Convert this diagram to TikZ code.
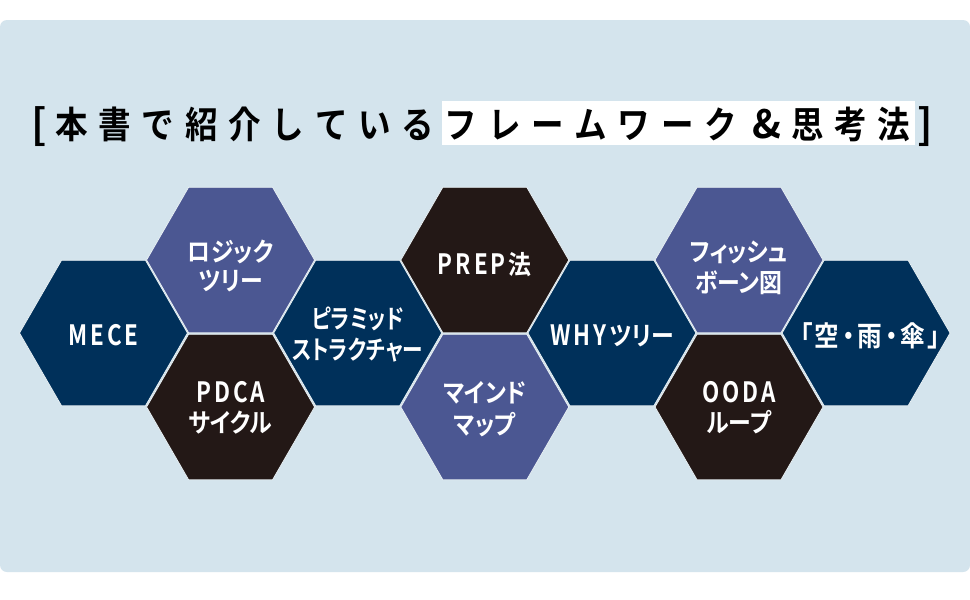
\documentclass[tikz,border=0pt]{standalone}
\usepackage{fontspec}
\usetikzlibrary{shapes.geometric}
\newfontfamily\hexf{Noto Sans CJK JP}[UprightFont={* Bold}, FakeStretch=0.88, RawFeature=+palt]
\newfontfamily\latf{Noto Sans CJK JP}[UprightFont={* Bold}, FakeStretch=0.8]
\newfontfamily\titf{Noto Sans CJK JP}[UprightFont={* Bold}, FakeStretch=0.88]
\newfontfamily\ampf{Noto Sans CJK JP}[UprightFont={* Bold}]
\definecolor{bgblue}{HTML}{D4E4ED}
\definecolor{hnavy}{HTML}{00305A}
\definecolor{hpurple}{HTML}{4B5792}
\definecolor{hblack}{HTML}{231816}
\definecolor{hline}{HTML}{E8F0F4}
\newcommand\tk{\kern3pt\relax}
\newcommand\lat[1]{{\latf\fontsize{28}{31}\selectfont #1}}
\begin{document}
\begin{tikzpicture}[x=1pt,y=-1pt,
  hexbase/.style={regular polygon, regular polygon sides=6, minimum size=168pt,
    inner sep=0pt, outer sep=0pt, draw=hline, line width=0.8pt},
  hexnavy/.style={hexbase, fill=hnavy},
  hexpurple/.style={hexbase, fill=hpurple},
  hexblack/.style={hexbase, fill=hblack},
  lab/.style={text=white, font=\hexf\fontsize{26}{31}\selectfont, inner sep=0pt, anchor=base},
  tit/.style={text=black, font=\titf\fontsize{37}{40}\selectfont, inner sep=0pt, anchor=base}]
\useasboundingbox (0,0) rectangle (970,600);
\fill[white] (0,0) rectangle (970,600);
\fill[bgblue, rounded corners=7pt] (0,20) rectangle (970,572);
% title
\fill[white] (442,101) rectangle (915,145);
\node[tit, font=\ampf\fontsize{41}{44}\selectfont] (tl) at (39,139) {[};
\foreach \ch [count=\i from 0] in {本,書,で,紹,介,し,て,い,る,フ,レ,ー,ム,ワ,ー,ク}
  \node[tit] (t\i) at ({71.7+43.27*\i},138) {\ch};
\node[tit, font=\ampf\fontsize{39}{42}\selectfont] (tamp) at (766.5,138) {\&};
\foreach \ch [count=\i from 17] in {思,考,法}
  \node[tit] (t\i) at ({71.7+43.27*\i},138) {\ch};
\node[tit, font=\ampf\fontsize{41}{44}\selectfont] (tr) at (925,139) {]};
% hexagons
\node[hexnavy]   (h1)  at (103.5,333) {};
\node[hexpurple] (h2)  at (230.6,260) {};
\node[hexblack]  (h3)  at (230.6,407) {};
\node[hexnavy]   (h4)  at (357.7,333) {};
\node[hexblack]  (h5)  at (484.8,260) {};
\node[hexpurple] (h6)  at (484.8,407) {};
\node[hexnavy]   (h7)  at (611.9,333) {};
\node[hexpurple] (h8)  at (739.0,260) {};
\node[hexblack]  (h9)  at (739.0,407) {};
\node[hexnavy]   (h10) at (866.1,333) {};
% labels
\node[lab] (l1)  at ([yshift=-12pt]h1.center) {\lat{M\tk E\tk C\tk E}};
\node[lab] (l2a) at ([yshift=-1pt]h2.center) {ロジック};
\node[lab] (l2b) at ([yshift=-30pt]h2.center) {ツリー};
\node[lab] (l3a) at ([yshift=5pt]h3.center) {\lat{P\tk D\tk C\tk A}};
\node[lab] (l3b) at ([yshift=-25pt]h3.center) {サイクル};
\node[lab] (l4a) at ([yshift=5pt]h4.center) {\scalebox{0.9}[1]{ピラミッド}};
\node[lab] (l4b) at ([yshift=-26pt]h4.center) {\scalebox{0.9}[1]{ストラクチャー}};
\node[lab] (l5)  at ([yshift=-14pt]h5.center) {\lat{P\tk R\tk E\tk P\tk}法};
\node[lab] (l6a) at ([yshift=5pt]h6.center) {マインド};
\node[lab] (l6b) at ([yshift=-27pt]h6.center) {マップ};
\node[lab] (l7)  at ([yshift=-12pt]h7.center) {\lat{W\tk H\tk Y\tk}ツリー};
\node[lab] (l8a) at ([yshift=-1pt]h8.center) {フィッシュ};
\node[lab] (l8b) at ([yshift=-32pt]h8.center) {ボーン図};
\node[lab] (l9a) at ([yshift=5pt]h9.center) {\lat{O\tk O\tk D\tk A}};
\node[lab] (l9b) at ([yshift=-25pt]h9.center) {ループ};
\node[lab, font=\hexf\fontsize{28}{31}\selectfont] (l10) at ([xshift=4pt,yshift=-13pt]h10.center) {「\kern2pt 空\kern3pt・\kern3pt 雨\kern3pt・\kern3pt 傘\kern2pt 」};
\end{tikzpicture}
\end{document}
